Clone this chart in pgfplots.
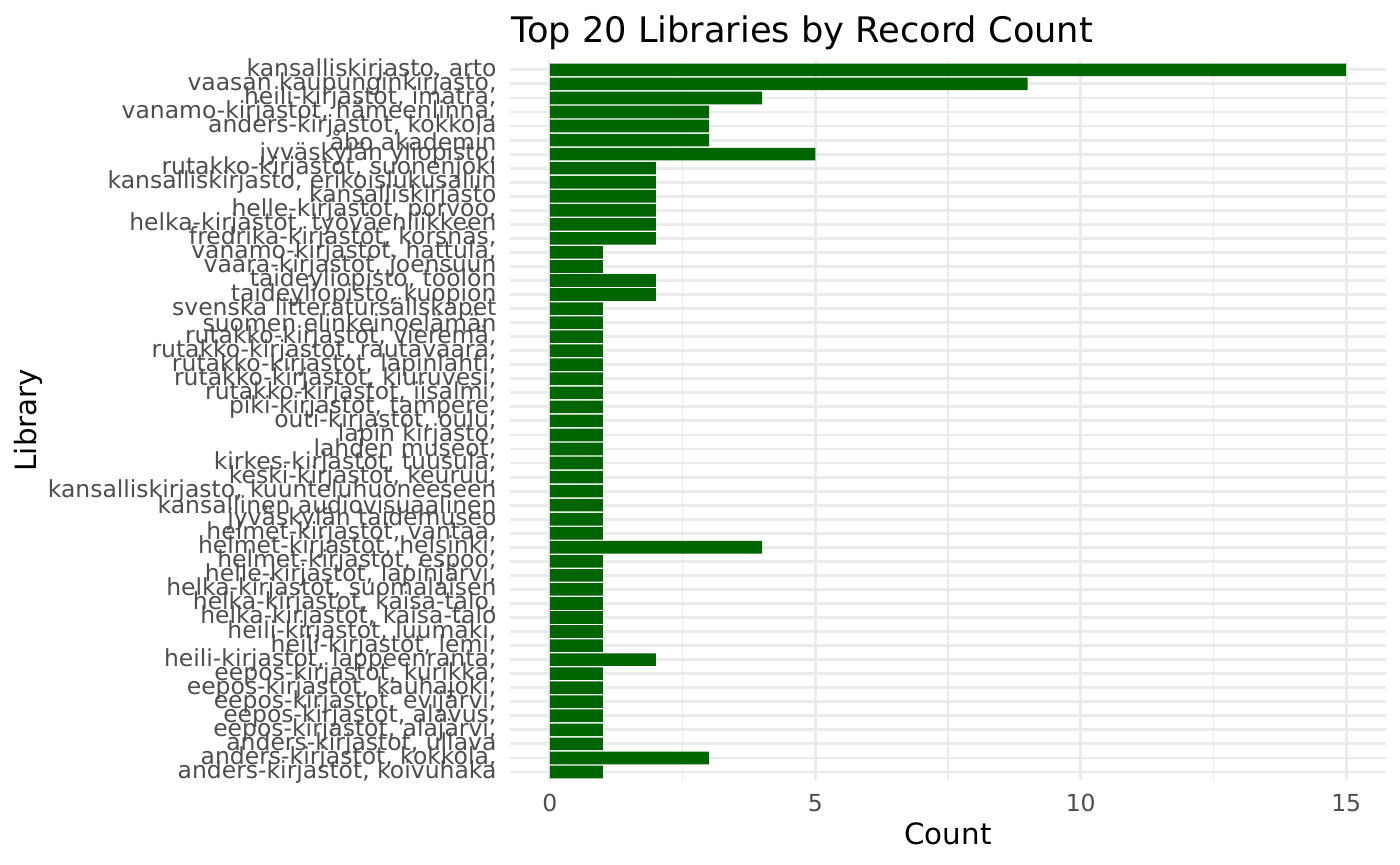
\documentclass[border=0pt]{standalone}
\usepackage{pgfplots}
\pgfplotsset{compat=1.18}
\usepackage{fontspec}
\setmainfont{DejaVu Sans}
\definecolor{bargreen}{HTML}{006400}
\definecolor{gridgrey}{HTML}{EBEBEB}
\definecolor{ticktext}{HTML}{4D4D4D}
\begin{document}
\begin{tikzpicture}
\path[use as bounding box] (0,0) rectangle (525pt,324.375pt);
\begin{axis}[
  at={(191.25pt,31.725pt)}, anchor=south west,
  scale only axis, width=328.5pt, height=269.6pt,
  xmin=-0.75, xmax=15.75,
  ymin=-0.6, ymax=50.6, y dir=reverse,
  xtick={0,5,10,15}, xticklabels={0,5,10,15},
  minor xtick={2.5,7.5,12.5},
  ytick={0,...,50},
  yticklabels={
    {kansalliskirjasto, arto},
    {vaasan kaupunginkirjasto,},
    {heili-kirjastot, imatra,},
    {vanamo-kirjastot, hämeenlinna,},
    {anders-kirjastot, kokkola},
    {åbo akademin},
    {jyväskylän yliopisto,},
    {rutakko-kirjastot, suonenjoki},
    {kansalliskirjasto, erikoislukusaliin},
    {kansalliskirjasto},
    {helle-kirjastot, porvoo,},
    {helka-kirjastot, työväenliikkeen},
    {fredrika-kirjastot, korsnäs,},
    {vanamo-kirjastot, hattula,},
    {vaara-kirjastot, joensuun},
    {taideyliopisto, töölön},
    {taideyliopisto, kuopion},
    {svenska litteratursällskapet},
    {suomen elinkeinoelämän},
    {rutakko-kirjastot, vieremä,},
    {rutakko-kirjastot, rautavaara,},
    {rutakko-kirjastot, lapinlahti,},
    {rutakko-kirjastot, kiuruvesi,},
    {rutakko-kirjastot, iisalmi,},
    {piki-kirjastot, tampere,},
    {outi-kirjastot, oulu,},
    {lapin kirjasto,},
    {lahden museot,},
    {kirkes-kirjastot, tuusula,},
    {keski-kirjastot, keuruu,},
    {kansalliskirjasto, kuunteluhuoneeseen},
    {kansallinen audiovisuaalinen},
    {jyväskylän taidemuseo},
    {helmet-kirjastot, vantaa,},
    {helmet-kirjastot, helsinki,},
    {helmet-kirjastot, espoo,},
    {helle-kirjastot, lapinjärvi,},
    {helka-kirjastot, suomalaisen},
    {helka-kirjastot, kaisa-talo,},
    {helka-kirjastot, kaisa-talo},
    {heili-kirjastot, luumäki,},
    {heili-kirjastot, lemi,},
    {heili-kirjastot, lappeenranta,},
    {eepos-kirjastot, kurikka,},
    {eepos-kirjastot, kauhajoki,},
    {eepos-kirjastot, evijärvi,},
    {eepos-kirjastot, alavus,},
    {eepos-kirjastot, alajärvi,},
    {anders-kirjastot, ullava},
    {anders-kirjastot, kokkola,},
    {anders-kirjastot, koivuhaka}
  },
  grid=both,
  major grid style={draw=gridgrey, line width=1.07pt},
  minor grid style={draw=gridgrey, line width=0.53pt},
  axis line style={draw=none},
  major tick length=0pt, minor tick length=0pt,
  tick style={draw=none},
  yticklabel style={font=\fontsize{8.8pt}{8.8pt}\selectfont, text=ticktext, anchor=east, inner sep=0pt, xshift=-4.9pt},
  xticklabel style={font=\fontsize{8.8pt}{8.8pt}\selectfont, text=ticktext, anchor=base, inner sep=0pt, yshift=-11.5pt},
  xbar, bar width=0.9, bar shift=0pt,
]
\addplot[fill=bargreen, draw=none] coordinates {
(15,0) (9,1) (4,2) (3,3) (3,4) (3,5) (5,6) (2,7) (2,8) (2,9)
(2,10) (2,11) (2,12) (1,13) (1,14) (2,15) (2,16) (1,17) (1,18) (1,19)
(1,20) (1,21) (1,22) (1,23) (1,24) (1,25) (1,26) (1,27) (1,28) (1,29)
(1,30) (1,31) (1,32) (1,33) (4,34) (1,35) (1,36) (1,37) (1,38) (1,39)
(1,40) (1,41) (2,42) (1,43) (1,44) (1,45) (1,46) (1,47) (1,48) (3,49)
(1,50)
};
\end{axis}
\node[anchor=base west, inner sep=0pt, font=\fontsize{13.2pt}{13.2pt}\selectfont] at (191.6pt,308.6pt) {Top 20 Libraries by Record Count};
\node[anchor=base, inner sep=0pt, font=\fontsize{11pt}{11pt}\selectfont] at (355.5pt,7.5pt) {Count};
\node[rotate=90, inner sep=0pt, font=\fontsize{11pt}{11pt}\selectfont] at (10.5pt,166.8pt) {Library};
\end{tikzpicture}
\end{document}
